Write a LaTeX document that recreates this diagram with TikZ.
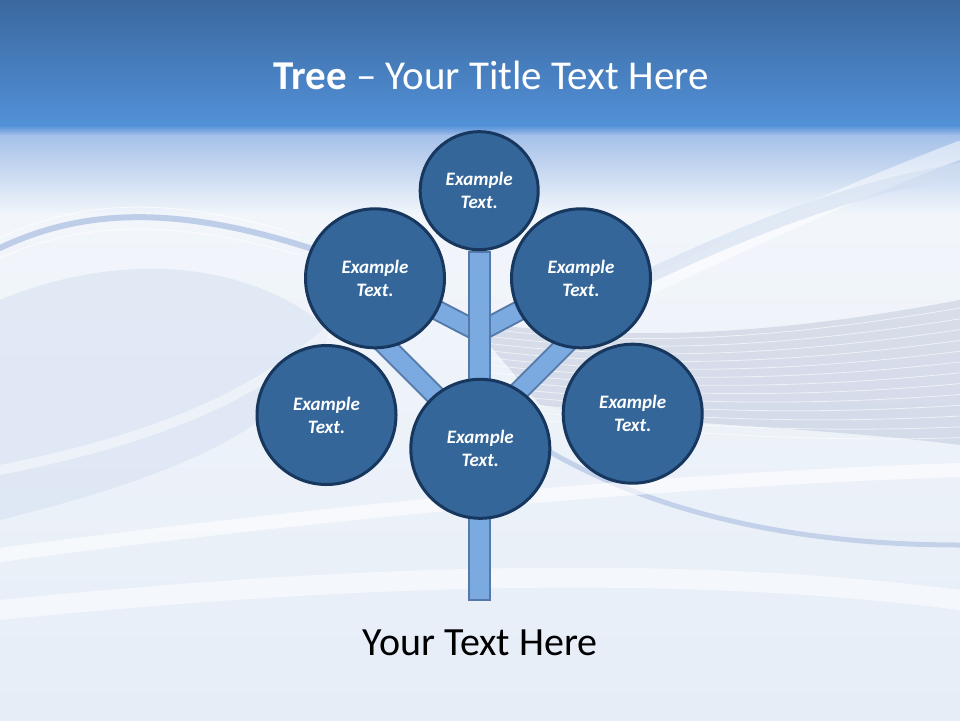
\documentclass[tikz,border=0pt]{standalone}
\usepackage{fontspec}
\setmainfont{Carlito}
\begin{document}
\begin{tikzpicture}[x=1pt,y=-1pt,
  leaf/.style={circle,draw=circborder,fill=circfill,line width=3pt,inner sep=0pt,
    text=white,font=\fontsize{19}{23}\selectfont\bfseries\itshape,align=center},
  bigleaf/.style={leaf,minimum size=139pt},
  smallleaf/.style={leaf,minimum size=118pt},
  trunkbox/.style={rectangle,draw=trunkborder,fill=trunkfill,line width=2pt,inner sep=0pt},
  branchout/.style={line width=21pt,draw=trunkborder},
  branchin/.style={line width=17pt,draw=trunkfill},
  wave/.style={line cap=round}
]
\definecolor{circfill}{HTML}{346699}
\definecolor{circborder}{HTML}{17375E}
\definecolor{trunkfill}{HTML}{7BAAE0}
\definecolor{trunkborder}{HTML}{5579A8}
\definecolor{bandtop}{HTML}{3B689F}
\definecolor{bandbot}{HTML}{5291D8}
\definecolor{bgA}{HTML}{A6C1E9}
\definecolor{bgB}{HTML}{F2F6FB}
\definecolor{bgC}{HTML}{E6EDF7}
\definecolor{waveblue}{HTML}{B3C4E4}
\definecolor{wavegrey}{HTML}{B9C2D6}
\definecolor{lightblue}{HTML}{D3DFF1}
\useasboundingbox (0,0) rectangle (960,720);
% background
\shade[top color=bandtop,bottom color=bandbot] (0,0) rectangle (960,126);
\shade[top color=bandbot,bottom color=bgA] (0,125.5) rectangle (960,136);
\shade[top color=bgA,bottom color=bgB] (0,135.5) rectangle (960,215);
\shade[top color=bgB,bottom color=bgC] (0,214.5) rectangle (960,720);
% decorative waves
\fill[lightblue,opacity=0.5] (0,300) .. controls (120,250) and (250,260) .. (330,330)
  .. controls (300,420) and (200,470) .. (0,520) -- cycle;
\fill[wavegrey,opacity=0.45] (470,322) .. controls (650,345) and (800,330) .. (960,300)
  -- (960,445) .. controls (800,425) and (650,425) .. (540,405) -- cycle;
\foreach \d in {0,9,...,108}{
  \draw[white,opacity=0.6,line width=0.8pt] (480,{328+\d*0.8}) .. controls (650,{350+\d*0.75}) and (800,{335+\d}) .. (960,{308+\d*1.2});
}
\draw[wave,waveblue,opacity=0.8,line width=6pt] (0,248) .. controls (80,210) and (170,205) .. (300,245) .. controls (380,270) and (430,300) .. (480,330);
\draw[wave,white,opacity=0.6,line width=1pt] (0,238) .. controls (80,200) and (170,195) .. (300,235);
\draw[wave,white,opacity=0.6,line width=1pt] (0,258) .. controls (80,222) and (170,218) .. (300,255);
\draw[wave,waveblue,opacity=0.7,line width=5pt] (530,440) .. controls (650,515) and (800,545) .. (960,545);
\draw[wave,white,opacity=0.5,line width=18pt] (560,330) .. controls (700,260) and (830,200) .. (960,150);
\draw[wave,lightblue,opacity=0.6,line width=14pt] (600,300) .. controls (720,240) and (840,190) .. (960,170);
\draw[wave,white,opacity=0.6,line width=14pt] (0,555) .. controls (300,515) and (650,480) .. (960,470);
\draw[wave,white,opacity=0.45,line width=10pt] (0,470) .. controls (150,440) and (250,400) .. (330,330);
\draw[wave,white,opacity=0.5,line width=20pt] (0,610) .. controls (300,580) and (650,560) .. (960,600);
% tree coordinates
\coordinate (ulj) at (479,332);
\coordinate (urj) at (479,332);
\coordinate (llj) at (480,440);
\coordinate (lrj) at (480,430);
\coordinate (lle) at (377,337);
\coordinate (lre) at (588,322);
\coordinate (ule) at (375,278);
\coordinate (ure) at (581,278);
% branches
\draw[branchout] (ulj) -- (ule);
\draw[branchin] (ulj) -- (ule);
\draw[branchout] (urj) -- (ure);
\draw[branchin] (urj) -- (ure);
\draw[branchout] (llj) -- (lle);
\draw[branchin] (llj) -- (lle);
\draw[branchout] (lrj) -- (lre);
\draw[branchin] (lrj) -- (lre);
% trunk
\node[trunkbox,minimum width=21pt,minimum height=348pt] (trunk) at (479.5,425.5) {};
% leaves
\node[smallleaf] (top) at (479.2,190.7) {Example\\Text.};
\node[bigleaf] (ul) at (375,278.3) {Example\\Text.};
\node[bigleaf] (ur) at (581,278.3) {Example\\Text.};
\node[bigleaf] (ll) at (326.5,415) {Example\\Text.};
\node[bigleaf] (lr) at (632.7,413.7) {Example\\Text.};
\node[bigleaf] (bc) at (480.3,448.8) {Example\\Text.};
% texts
\node[text=white,font=\fontsize{41}{48}\selectfont,inner sep=0pt] (title) at (491,75) {\textbf{Tree} – Your Title Text Here};
\node[text=black,font=\fontsize{40}{48}\selectfont,inner sep=0pt] (caption) at (480,643) {Your Text Here};
\end{tikzpicture}
\end{document}
